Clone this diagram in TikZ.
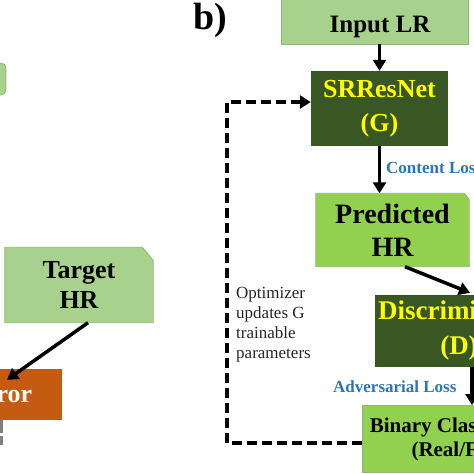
\documentclass[tikz,border=0pt]{standalone}
\usepackage{fontspec}
\setmainfont{Liberation Serif}
\usetikzlibrary{arrows.meta,backgrounds,calc}
\definecolor{lgreen}{HTML}{A9D18E}
\definecolor{lborder}{HTML}{8DB872}
\definecolor{bgreen}{HTML}{92D050}
\definecolor{dgreen}{HTML}{385723}
\definecolor{ylw}{HTML}{FFFF00}
\definecolor{lossblue}{HTML}{2E75B6}
\definecolor{orng}{HTML}{C55A11}
\definecolor{txtgray}{HTML}{262626}
\tikzset{
  arr/.style={line width=3.5pt, -{Triangle[length=11pt,width=13pt]}},
  fb/.style={line width=3.5pt, dash pattern=on 10pt off 5pt, -{Triangle[length=11pt,width=13pt]}},
  lbox/.style={fill=lgreen, draw=lborder, line width=0.8pt},
  gbox/.style={fill=bgreen, draw=lborder, line width=0.8pt},
  dbox/.style={fill=dgreen, text=ylw},
  plain/.style={inner sep=0pt, align=center},
  bigf/.style={font=\fontsize{26}{34}\selectfont\bfseries},
  lossf/.style={font=\fontsize{17}{20}\selectfont\bfseries, text=lossblue, inner sep=0pt},
}
\begin{document}
\begin{tikzpicture}[x=1pt,y=-1pt]
\useasboundingbox (0,0) rectangle (474,474);
\clip (0,0) rectangle (474,474);

% label
\node[anchor=base west, inner sep=0pt, font=\fontsize{38}{40}\selectfont\bfseries] (lab) at (193,29) {b)};

% left partial box (top-left)
\node[lbox, rounded corners=5pt, minimum width=52pt, minimum height=32pt] (lb) at (-20,79) {};

% Input LR
\node[lbox, minimum width=187pt, minimum height=50pt] (in) at (374.5,19) {};
\node[plain, font=\fontsize{25}{30}\selectfont\bfseries] (inT) at (380,27) {Input LR};

% SRResNet
\node[dbox, plain, bigf, minimum width=137pt, minimum height=75pt] (srr) at (379.5,108.5) {SRResNet\\(G)};

% Predicted HR (snipped corner)
\node[plain, font=\fontsize{28}{33}\selectfont\bfseries, minimum width=153pt, minimum height=73pt] (pred) at (392.5,230) {Predicted\\HR};
\begin{scope}[on background layer]
\draw[gbox] (pred.south west) -- (pred.north west) -- ([xshift=-5pt]pred.north east) -- ([yshift=-6pt]pred.north east) -- (pred.south east) -- cycle;
\end{scope}

% Discriminator
\node[dbox, plain, font=\fontsize{27}{35}\selectfont\bfseries, minimum width=168pt, minimum height=72pt] (disc) at (459,331) {Discriminator\\(D)};

% Binary classification
\node[gbox, plain, font=\fontsize{21}{24}\selectfont\bfseries, minimum width=204pt, minimum height=67pt] (bin) at (464,439) {Binary Classification\\(Real/Fake)};

% Target HR (snipped corner)
\node[plain, font=\fontsize{26}{30}\selectfont\bfseries, minimum width=148pt, minimum height=75pt] (tgt) at (79,285) {Target\\HR};
\begin{scope}[on background layer]
\draw[lbox] (tgt.south west) -- (tgt.north west) -- ([xshift=-11pt]tgt.north east) -- ([yshift=-13pt]tgt.north east) -- (tgt.south east) -- cycle;
\end{scope}

% Error
\node[fill=orng, text=white, plain, font=\fontsize{26}{30}\selectfont\bfseries, minimum width=124pt, minimum height=51pt] (err) at (0,394.5) {Error};

% Optimizer text
\node[anchor=west, align=left, inner sep=0pt, font=\fontsize{17}{20}\selectfont, text=txtgray] (opt) at (236,325) {Optimizer\\updates G\\trainable\\parameters};

% loss labels
\node[lossf, anchor=west] (cl) at (386,168) {Content Loss};
\node[lossf, anchor=west] (al) at (333,387) {Adversarial Loss};

% arrows
\draw[arr] (srr.north |- in.south) -- (srr.north);
\draw[arr] (srr.south) -- (srr.south |- pred.north);
\draw[arr] ([xshift=12.5pt]pred.south) -- ([xshift=11pt,yshift=2pt]disc.north);
\draw[arr] ([xshift=13pt]disc.south) -- ([xshift=8pt]bin.north);
\draw[arr] ([xshift=9pt]tgt.south) -- ([xshift=7pt,yshift=-11pt]err.north);

% feedback dashed loop
\coordinate (c1) at (227,443);
\coordinate (c2) at (227,102);
\draw[fb] (bin.west |- c1) -- (c1) -- (c2) -- (c2 -| srr.west);

% grey stub below Error
\coordinate (g1) at (1.5,445);
\draw[gray, line width=3pt, dash pattern=on 13pt off 3pt] (err.south -| g1) -- (g1);
\end{tikzpicture}
\end{document}
